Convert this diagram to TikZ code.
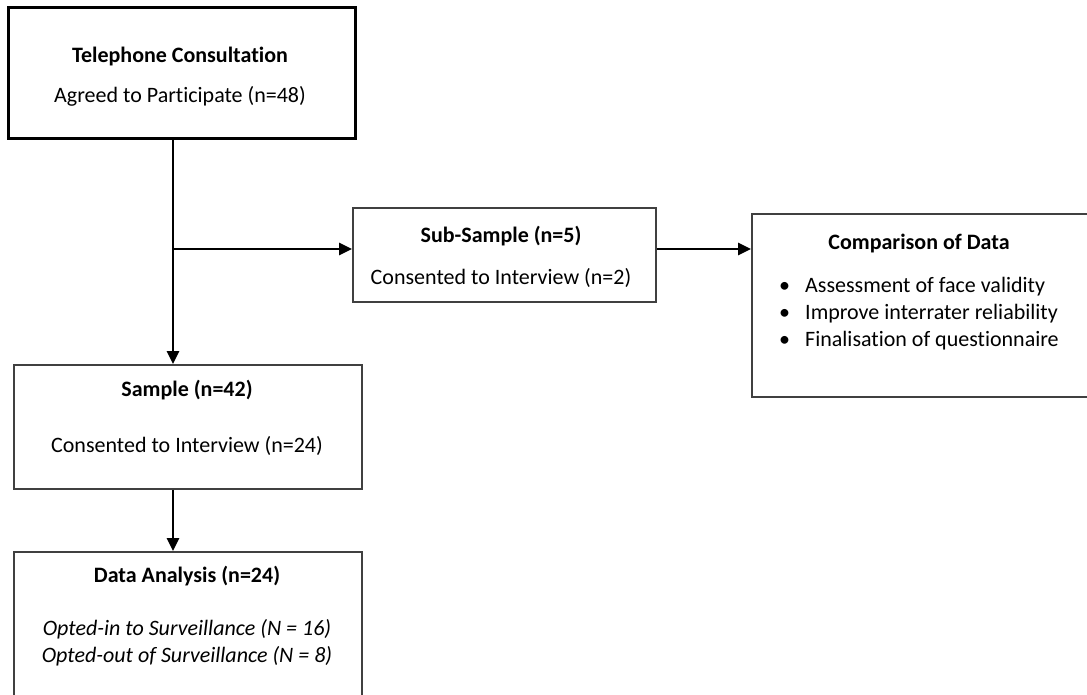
\documentclass[tikz,border=0pt]{standalone}
\usepackage{fontspec}
\setmainfont{Carlito}[Ligatures=NoCommon]
\usetikzlibrary{arrows.meta}
\begin{document}
\begin{tikzpicture}[
        x=1pt, y=-1pt,
        box/.style={rectangle, draw=black!75, line width=1.8pt, inner sep=0pt},
        main_box/.style={box, draw=black, line width=3pt},
        title/.style={anchor=base, inner sep=0pt, font=\fontsize{22}{26}\selectfont\bfseries},
        body/.style={anchor=base, inner sep=0pt, font=\fontsize{22}{26}\selectfont},
        item/.style={anchor=base west, inner sep=0pt, font=\fontsize{22}{26}\selectfont},
        flow/.style={line width=2.5pt, -{Triangle[length=13pt, width=12pt]}}
    ]
        \useasboundingbox (0,0) rectangle (1087,695);
        \clip (0,0) rectangle (1087,695);

        % Boxes
        \node[main_box, minimum width=347pt, minimum height=131pt] (phone) at (181.5,73.5) {};
        \node[box, minimum width=303pt, minimum height=94pt] (sub) at (504.5,255) {};
        \node[box, minimum width=350pt, minimum height=183pt] (comp) at (927,305.5) {};
        \node[box, minimum width=348pt, minimum height=124pt] (sample) at (188,427) {};
        \node[box, minimum width=348pt, minimum height=158pt] (data) at (188,631) {};

        % Texts
        \node[title] (phone_title) at (180,63) {Telephone Consultation};
        \node[body] (phone_text) at (180,103) {Agreed to Participate (n=48)};
        \node[title] (sub_title) at (501,243) {Sub-Sample (n=5)};
        \node[body] (sub_text) at (501,284) {Consented to Interview (n=2)};
        \node[title] (comp_title) at (919,249) {Comparison of Data};
        \foreach \y/\txt [count=\i] in {292/Assessment of face validity, 319/Improve interrater reliability, 346/Finalisation of questionnaire} {
            \node[item] (comp_dot\i) at (779,\y) {•};
            \node[item] (comp_item\i) at (805,\y) {\txt};
        }
        \node[title] (sample_title) at (187,396) {Sample (n=42)};
        \node[body] (sample_text) at (187,452) {Consented to Interview (n=24)};
        \node[title] (data_title) at (187,582) {Data Analysis (n=24)};
        \node[body, font=\fontsize{22}{26}\selectfont\itshape] (data_in) at (187,635) {Opted-in to Surveillance (N = 16)};
        \node[body, font=\fontsize{22}{26}\selectfont\itshape] (data_out) at (187,662) {Opted-out of Surveillance (N = 8)};

        % Connectors
        \coordinate (branch) at (173,249);
        \draw[flow] (phone.south -| branch) -- (sample.north -| branch);
        \draw[flow] (branch) -- (branch -| sub.west);
        \draw[flow] (sub.east |- branch) -- (comp.west |- branch);
        \draw[flow] (sample.south -| branch) -- (data.north -| branch);
    \end{tikzpicture}
\end{document}
